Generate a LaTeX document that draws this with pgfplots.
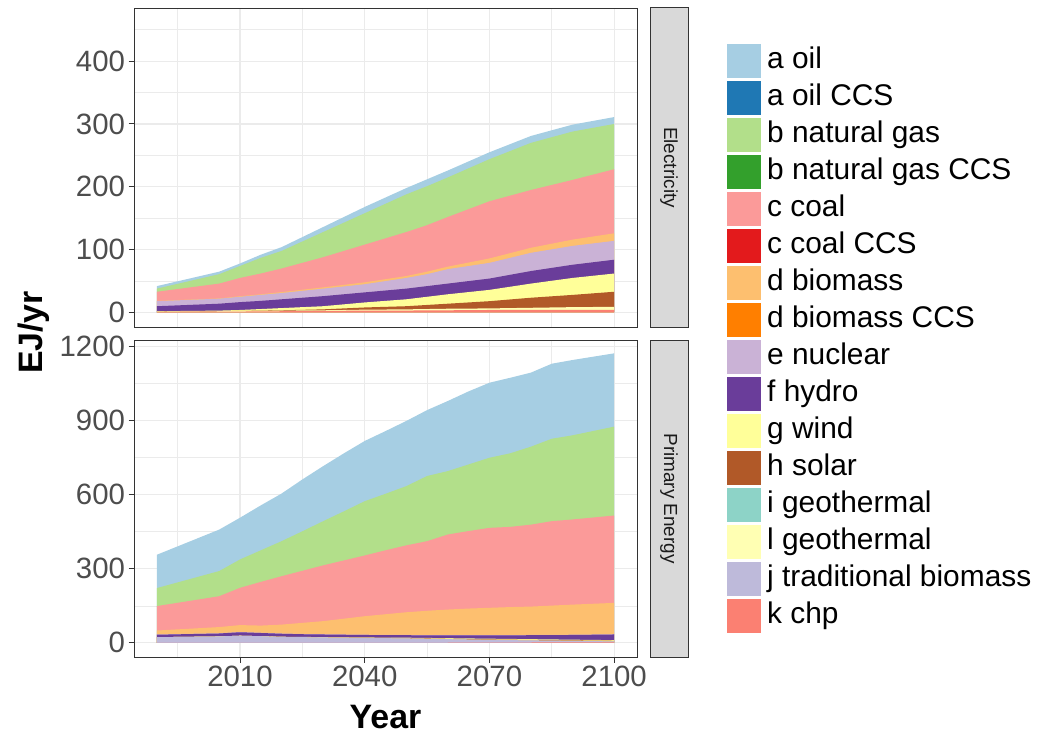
\documentclass[border=0pt]{standalone}
\usepackage{pgfplots}
\pgfplotsset{compat=1.18}
\usepackage{pgfplotstable}
\usepackage{fontspec}
\setmainfont{Liberation Sans}

\definecolor{cOil}{HTML}{A6CEE3}
\definecolor{cOilCCS}{HTML}{1F78B4}
\definecolor{cGas}{HTML}{B2DF8A}
\definecolor{cGasCCS}{HTML}{33A02C}
\definecolor{cCoal}{HTML}{FB9A99}
\definecolor{cCoalCCS}{HTML}{E31A1C}
\definecolor{cBio}{HTML}{FDBF6F}
\definecolor{cBioCCS}{HTML}{FF7F00}
\definecolor{cNuc}{HTML}{CAB2D6}
\definecolor{cHyd}{HTML}{6A3D9A}
\definecolor{cWind}{HTML}{FFFF99}
\definecolor{cSolar}{HTML}{B15928}
\definecolor{cGeoI}{HTML}{8DD3C7}
\definecolor{cGeoL}{HTML}{FFFFB3}
\definecolor{cTrad}{HTML}{BEBADA}
\definecolor{cChp}{HTML}{FB8072}
\definecolor{gridc}{HTML}{EBEBEB}
\definecolor{frame}{HTML}{333333}
\definecolor{ticktext}{HTML}{4D4D4D}
\definecolor{stripc}{HTML}{D9D9D9}
\definecolor{striptext}{HTML}{1A1A1A}

% cumulative tops of the stacked layers (EJ/yr)
\pgfplotstableread{
year K L S W H N B Co Ga O
1990 1.0 1.5 1.5 2.0 10 18 18.5 33 38 42
2005 1.5 2.0 2.2 3.0 14 22 22.5 46 61 65
2010 1.5 2.2 2.5 4.0 16.5 25 26 55 74 78
2015 1.8 2.5 3.0 5.5 18.5 28 29 62 87 92
2020 2.0 3.0 3.5 7.0 21 31 32.5 70 98 104
2030 2.5 3.5 5.0 10 26 38 40 88 128 136
2040 3.0 4.5 8.0 16 32 45 48 108 158 168
2050 3.0 5.0 10 21 38 55 58 128 188 198
2055 3.5 5.5 12 25 42 61 65 139 201 212
2060 3.5 6.0 14 29 46 69 73 152 215 226
2070 4.0 6.5 18 36 54 79 86 177 244 255
2080 4.0 7.5 23.5 46 66 95 103 195 270 281
2090 4.0 8.5 28 55 76 106 116 211 288 299
2100 4.0 9.0 33 62 84 114 126 228 300 311
}\elec

\pgfplotstableread{
year K J L S W H N B Co Ga O
1990 0 23 23 23 23 33 34 50 149 222 357
2005 0 26 26 26 26 38 39 64 189 291 459
2010 0 29 29 29 29 43 44 72 223 338 507
2015 0 27 27 27 27 40 41 70 247 375 557
2020 0 24 24 24.5 25 37 38 74 270 412 605
2025 0 23 23 23.5 24 35 36 81 292 452 662
2030 0 22 22 22.5 23.5 34 35 88 314 493 716
2035 0 21 21 22 23 33 34 98 334 533 768
2040 0 20 20 21 22 32 33 108 354 574 818
2045 0 19 19 20 21.5 31.5 32.5 116 375 604 858
2050 0 18 18 19 21 31 32 124 395 635 899
2055 0.5 16.5 16.5 18 20 30.5 31.5 130 412 676 943
2060 0.5 15 15 16.5 19 30 31 135 439 696 980
2065 1 13.5 13.5 15.5 18 30 31 139 453 723 1019
2070 1 12 12 14 17 30 31 142 466 750 1054
2075 1.5 11 11 13 16 30.5 31.5 145 470 768 1074
2080 1.5 10 10 12 15 31 32 147 479 795 1095
2085 2 9 9 11 14 31.5 32.5 151 493 827 1131
2090 2 8 8 10 13 32 33 155 500 841 1146
2100 2.5 6 6 8.5 11 34 35 162 516 876 1173
}\prim

\pgfplotsset{
  panel/.style={
    scale only axis, width=503bp,
    xmin=1984.5, xmax=2105.5,
    axis line style={draw=frame, line width=1bp},
    grid=both,
    major grid style={draw=gridc, line width=1.2bp},
    minor grid style={draw=gridc, line width=0.6bp},
    xtick={2010,2040,2070,2100},
    minor xtick={1995,2025,2055,2085},
    tick pos=left,
    tick align=outside,
    major tick length=5.5bp,
    minor tick length=0bp,
    tick style={draw=frame, line width=1bp},
    ticklabel style={font=\fontsize{29.5}{30}\selectfont, text=ticktext},
    /pgf/number format/assume math mode=true,
    /pgf/number format/1000 sep={},
  },
  layer/.style={fill=#1, draw=none, forget plot},
}

\begin{document}
\begin{tikzpicture}[x=1bp,y=1bp]
\useasboundingbox (0,0) rectangle (1039,-735);

% ---------- Electricity ----------
\begin{axis}[panel,
  at={(134bp,-327bp)}, anchor=south west, height=319bp,
  ymin=-23.1, ymax=484.6,
  ytick={0,100,200,300,400},
  minor ytick={50,150,250,350,450},
  xticklabels={}, xtick style={draw=none},
  legend cell align=left,
  legend style={at={(1.1789,0.887)}, anchor=north west, draw=none, fill=none,
    inner sep=0pt, row sep=3bp, column sep=6bp,
    font=\fontsize{30}{30}\selectfont,
    nodes={inner sep=0pt, text height=21bp, text depth=6bp}},
  legend image code/.code={\fill[#1, draw=none] (0bp,-17bp) rectangle (34bp,17bp);},
]
\addplot[layer=cOil]   table[x=year,y=O]  {\elec} \closedcycle;
\addplot[layer=cGas]   table[x=year,y=Ga] {\elec} \closedcycle;
\addplot[layer=cCoal]  table[x=year,y=Co] {\elec} \closedcycle;
\addplot[layer=cBio]   table[x=year,y=B]  {\elec} \closedcycle;
\addplot[layer=cNuc]   table[x=year,y=N]  {\elec} \closedcycle;
\addplot[layer=cHyd]   table[x=year,y=H]  {\elec} \closedcycle;
\addplot[layer=cWind]  table[x=year,y=W]  {\elec} \closedcycle;
\addplot[layer=cSolar] table[x=year,y=S]  {\elec} \closedcycle;
\addplot[layer=cGeoL]  table[x=year,y=L]  {\elec} \closedcycle;
\addplot[layer=cChp]   table[x=year,y=K]  {\elec} \closedcycle;

\addlegendimage{fill=cOil, draw=none}     \addlegendentry{a oil}
\addlegendimage{fill=cOilCCS, draw=none}  \addlegendentry{a oil CCS}
\addlegendimage{fill=cGas, draw=none}     \addlegendentry{b natural gas}
\addlegendimage{fill=cGasCCS, draw=none}  \addlegendentry{b natural gas CCS}
\addlegendimage{fill=cCoal, draw=none}    \addlegendentry{c coal}
\addlegendimage{fill=cCoalCCS, draw=none} \addlegendentry{c coal CCS}
\addlegendimage{fill=cBio, draw=none}     \addlegendentry{d biomass}
\addlegendimage{fill=cBioCCS, draw=none}  \addlegendentry{d biomass CCS}
\addlegendimage{fill=cNuc, draw=none}     \addlegendentry{e nuclear}
\addlegendimage{fill=cHyd, draw=none}     \addlegendentry{f hydro}
\addlegendimage{fill=cWind, draw=none}    \addlegendentry{g wind}
\addlegendimage{fill=cSolar, draw=none}   \addlegendentry{h solar}
\addlegendimage{fill=cGeoI, draw=none}    \addlegendentry{i geothermal}
\addlegendimage{fill=cGeoL, draw=none}    \addlegendentry{l geothermal}
\addlegendimage{fill=cTrad, draw=none}    \addlegendentry{j traditional biomass}
\addlegendimage{fill=cChp, draw=none}     \addlegendentry{k chp}
\end{axis}

% ---------- Primary Energy ----------
\begin{axis}[panel,
  at={(134bp,-657.3bp)}, anchor=south west, height=317.3bp,
  ymin=-58.5, ymax=1227,
  ytick={0,300,600,900,1200},
  minor ytick={150,450,750,1050},
]
\addplot[layer=cOil]   table[x=year,y=O]  {\prim} \closedcycle;
\addplot[layer=cGas]   table[x=year,y=Ga] {\prim} \closedcycle;
\addplot[layer=cCoal]  table[x=year,y=Co] {\prim} \closedcycle;
\addplot[layer=cBio]   table[x=year,y=B]  {\prim} \closedcycle;
\addplot[layer=cNuc]   table[x=year,y=N]  {\prim} \closedcycle;
\addplot[layer=cHyd]   table[x=year,y=H]  {\prim} \closedcycle;
\addplot[layer=cWind]  table[x=year,y=W]  {\prim} \closedcycle;
\addplot[layer=cSolar] table[x=year,y=S]  {\prim} \closedcycle;
\addplot[layer=cGeoL]  table[x=year,y=L]  {\prim} \closedcycle;
\addplot[layer=cTrad]  table[x=year,y=J]  {\prim} \closedcycle;
\addplot[layer=cChp]   table[x=year,y=K]  {\prim} \closedcycle;
\end{axis}

% facet strips
\draw[fill=stripc, draw=frame, line width=1bp] (650,-8) rectangle (688,-327);
\draw[fill=stripc, draw=frame, line width=1bp] (650,-340) rectangle (688,-657.3);
\node[rotate=-90, font=\fontsize{19}{19}\selectfont, text=striptext] at (669,-167.5) {Electricity};
\node[rotate=-90, font=\fontsize{19}{19}\selectfont, text=striptext] at (669,-498.6) {Primary Energy};

% axis titles
\node[rotate=90, anchor=base, font=\bfseries\fontsize{34}{34}\selectfont] at (42,-332.5) {EJ/yr};
\node[anchor=base, font=\bfseries\fontsize{34}{34}\selectfont] at (385.5,-728) {Year};
\end{tikzpicture}
\end{document}
